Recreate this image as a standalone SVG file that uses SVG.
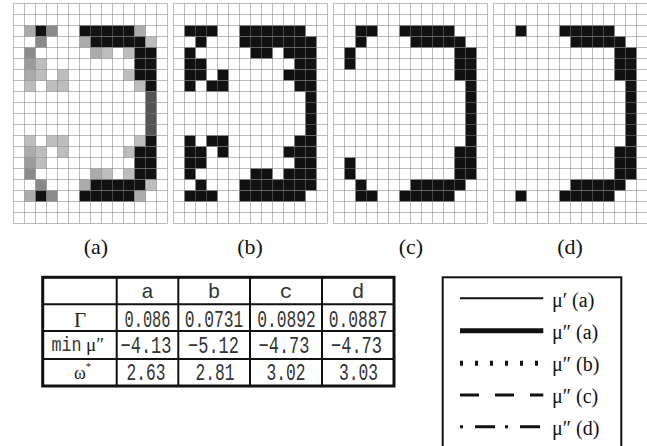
<svg xmlns="http://www.w3.org/2000/svg" xmlns:xlink="http://www.w3.org/1999/xlink" width="647" height="446" viewBox="0 0 647 446">
<style>
.k{fill:#111}.d{fill:#555}.g1{fill:#8a8a8a}.g2{fill:#9c9c9c}.g3{fill:#ababab}.g4{fill:#bdbdbd}
.gl{fill:none;stroke:#7a7a7a;stroke-opacity:0.5;stroke-width:1}
.lab{font-family:"Liberation Serif","Times New Roman",serif;font-size:22px;fill:#111;text-anchor:middle}
.mono{font-family:"Liberation Mono","Courier New",monospace;font-size:24px;fill:#333;text-anchor:middle}
.hdr{font-family:"Liberation Mono","Courier New",monospace;font-size:21px;fill:#333;text-anchor:middle}
.ser{font-family:"Liberation Serif","Times New Roman",serif;fill:#222}
.tb{fill:none;stroke:#111}
.lg{font-family:"Liberation Serif","Times New Roman",serif;font-size:20px;fill:#111}
.ll{stroke:#111;fill:none}
</style>
<defs>
<path id="grid" class="gl" d="M0 0V220M11 0V220M22 0V220M33 0V220M44 0V220M55 0V220M66 0V220M77 0V220M88 0V220M99 0V220M110 0V220M121 0V220M132 0V220M143 0V220M154 0V220M0 0H154M0 11H154M0 22H154M0 33H154M0 44H154M0 55H154M0 66H154M0 77H154M0 88H154M0 99H154M0 110H154M0 121H154M0 132H154M0 143H154M0 154H154M0 165H154M0 176H154M0 187H154M0 198H154M0 209H154M0 220H154"/>
</defs>
<rect width="647" height="446" fill="#fff"/>

<g id="panel-a" transform="translate(13.5,3.5)">
<rect class="g3" x="11" y="22" width="11" height="11"/><rect class="k" x="22" y="22" width="11" height="11"/><rect class="g1" x="33" y="22" width="11" height="11"/><rect class="k" x="66" y="22" width="55" height="11"/><rect class="g3" x="121" y="22" width="11" height="11"/>
<rect class="g1" x="22" y="33" width="11" height="11"/><rect class="g3" x="66" y="33" width="11" height="11"/><rect class="k" x="77" y="33" width="55" height="11"/><rect class="g4" x="132" y="33" width="11" height="11"/>
<rect class="g1" x="11" y="44" width="11" height="11"/><rect class="g3" x="77" y="44" width="11" height="11"/><rect class="g4" x="88" y="44" width="11" height="11"/><rect class="g4" x="110" y="44" width="11" height="11"/><rect class="k" x="121" y="44" width="22" height="11"/>
<rect class="g2" x="11" y="55" width="11" height="11"/><rect class="g4" x="22" y="55" width="11" height="11"/><rect class="k" x="121" y="55" width="22" height="11"/>
<rect class="g3" x="11" y="66" width="11" height="11"/><rect class="g4" x="22" y="66" width="11" height="11"/><rect class="g4" x="44" y="66" width="11" height="11"/><rect class="g4" x="110" y="66" width="11" height="11"/><rect class="k" x="121" y="66" width="22" height="11"/>
<rect class="g4" x="11" y="77" width="11" height="11"/><rect class="g4" x="33" y="77" width="22" height="11"/><rect class="g4" x="121" y="77" width="11" height="11"/><rect class="k" x="132" y="77" width="11" height="11"/>
<rect class="d" x="132" y="88" width="11" height="44"/>
<rect class="g4" x="11" y="132" width="11" height="11"/><rect class="g4" x="33" y="132" width="22" height="11"/><rect class="g4" x="121" y="132" width="11" height="11"/><rect class="k" x="132" y="132" width="11" height="11"/>
<rect class="g3" x="11" y="143" width="11" height="11"/><rect class="g4" x="22" y="143" width="11" height="11"/><rect class="g4" x="44" y="143" width="11" height="11"/><rect class="g4" x="110" y="143" width="11" height="11"/><rect class="k" x="121" y="143" width="22" height="11"/>
<rect class="g2" x="11" y="154" width="11" height="11"/><rect class="g4" x="22" y="154" width="11" height="11"/><rect class="k" x="121" y="154" width="22" height="11"/>
<rect class="g1" x="11" y="165" width="11" height="11"/><rect class="g3" x="77" y="165" width="11" height="11"/><rect class="g4" x="88" y="165" width="11" height="11"/><rect class="g4" x="110" y="165" width="11" height="11"/><rect class="k" x="121" y="165" width="22" height="11"/>
<rect class="g1" x="22" y="176" width="11" height="11"/><rect class="g3" x="66" y="176" width="11" height="11"/><rect class="k" x="77" y="176" width="55" height="11"/><rect class="g4" x="132" y="176" width="11" height="11"/>
<rect class="g3" x="11" y="187" width="11" height="11"/><rect class="k" x="22" y="187" width="11" height="11"/><rect class="g1" x="33" y="187" width="11" height="11"/><rect class="k" x="66" y="187" width="55" height="11"/><rect class="g3" x="121" y="187" width="11" height="11"/>
<use xlink:href="#grid" href="#grid"/>
</g>

<g id="panel-b" transform="translate(173.5,3.5)">
<rect class="k" x="11" y="22" width="33" height="11"/><rect class="k" x="66" y="22" width="66" height="11"/>
<rect class="k" x="22" y="33" width="11" height="11"/><rect class="k" x="66" y="33" width="77" height="11"/>
<rect class="k" x="11" y="44" width="11" height="11"/><rect class="k" x="77" y="44" width="22" height="11"/><rect class="k" x="110" y="44" width="33" height="11"/>
<rect class="k" x="11" y="55" width="22" height="11"/><rect class="k" x="121" y="55" width="22" height="11"/>
<rect class="k" x="11" y="66" width="22" height="11"/><rect class="k" x="44" y="66" width="11" height="11"/><rect class="k" x="110" y="66" width="33" height="11"/>
<rect class="k" x="11" y="77" width="11" height="11"/><rect class="k" x="33" y="77" width="22" height="11"/><rect class="k" x="121" y="77" width="22" height="11"/>
<rect class="k" x="132" y="88" width="11" height="44"/>
<rect class="k" x="11" y="132" width="11" height="11"/><rect class="k" x="33" y="132" width="22" height="11"/><rect class="k" x="121" y="132" width="22" height="11"/>
<rect class="k" x="11" y="143" width="22" height="11"/><rect class="k" x="44" y="143" width="11" height="11"/><rect class="k" x="110" y="143" width="33" height="11"/>
<rect class="k" x="11" y="154" width="22" height="11"/><rect class="k" x="121" y="154" width="22" height="11"/>
<rect class="k" x="11" y="165" width="11" height="11"/><rect class="k" x="77" y="165" width="22" height="11"/><rect class="k" x="110" y="165" width="33" height="11"/>
<rect class="k" x="22" y="176" width="11" height="11"/><rect class="k" x="66" y="176" width="77" height="11"/>
<rect class="k" x="11" y="187" width="33" height="11"/><rect class="k" x="66" y="187" width="66" height="11"/>
<use xlink:href="#grid" href="#grid"/>
</g>

<g id="panel-c" transform="translate(333.5,3.5)">
<rect class="k" x="22" y="22" width="22" height="11"/><rect class="k" x="66" y="22" width="55" height="11"/>
<rect class="k" x="22" y="33" width="11" height="11"/><rect class="k" x="77" y="33" width="55" height="11"/>
<rect class="k" x="11" y="44" width="11" height="22"/><rect class="k" x="121" y="44" width="22" height="33"/>
<rect class="k" x="132" y="77" width="11" height="66"/>
<rect class="k" x="121" y="143" width="22" height="33"/><rect class="k" x="11" y="154" width="11" height="22"/>
<rect class="k" x="22" y="176" width="11" height="11"/><rect class="k" x="77" y="176" width="55" height="11"/>
<rect class="k" x="22" y="187" width="22" height="11"/><rect class="k" x="66" y="187" width="55" height="11"/>
<use xlink:href="#grid" href="#grid"/>
</g>

<g id="panel-d" transform="translate(493.5,3.5)">
<rect class="k" x="22" y="22" width="11" height="11"/><rect class="k" x="66" y="22" width="55" height="11"/>
<rect class="k" x="77" y="33" width="55" height="11"/>
<rect class="k" x="121" y="44" width="22" height="33"/>
<rect class="k" x="132" y="77" width="11" height="66"/>
<rect class="k" x="121" y="143" width="22" height="33"/>
<rect class="k" x="77" y="176" width="55" height="11"/>
<rect class="k" x="22" y="187" width="11" height="11"/><rect class="k" x="66" y="187" width="55" height="11"/>
<use xlink:href="#grid" href="#grid"/>
</g>

<g id="labels">
<text class="lab" x="96" y="254">(a)</text>
<text class="lab" x="250" y="254">(b)</text>
<text class="lab" x="411" y="254">(c)</text>
<text class="lab" x="570" y="254">(d)</text>
</g>

<g id="table">
<rect class="tb" x="42.7" y="277.3" width="351.3" height="108.7" stroke-width="3"/>
<path class="tb" stroke-width="2" d="M116.7 277.3V386M178.3 277.3V386M250 277.3V386M322 277.3V386M42.7 304.3H394M42.7 331H394M42.7 359H394"/>
<text class="hdr" x="147.5" y="298">a</text>
<text class="hdr" x="214" y="298">b</text>
<text class="hdr" x="286" y="298">c</text>
<text class="hdr" x="358" y="298">d</text>
<text class="ser" x="80" y="327" font-size="21" text-anchor="middle">Γ</text>
<text class="mono" transform="translate(147.5,327) scale(0.64,1)">0.086</text>
<text class="mono" transform="translate(214,327) scale(0.68,1)">0.0731</text>
<text class="mono" transform="translate(286.5,327) scale(0.68,1)">0.0892</text>
<text class="mono" transform="translate(358,327) scale(0.68,1)">0.0887</text>
<text x="51.5" y="351" style="font-family:'Liberation Mono','Courier New',monospace;font-size:20px;fill:#333" textLength="30" lengthAdjust="spacingAndGlyphs">min</text>
<text class="ser" x="86" y="351" font-size="19">μ″</text>
<text class="mono" x="146" y="353" textLength="51" lengthAdjust="spacingAndGlyphs">−4.13</text>
<text class="mono" x="213.5" y="353" textLength="51" lengthAdjust="spacingAndGlyphs">−5.12</text>
<text class="mono" x="284" y="353" textLength="51" lengthAdjust="spacingAndGlyphs">−4.73</text>
<text class="mono" x="356.5" y="353" textLength="51" lengthAdjust="spacingAndGlyphs">−4.73</text>
<text class="ser" x="74" y="379" font-size="18">ω<tspan font-size="11" dy="-9">*</tspan></text>
<text class="mono" x="146" y="379.5" textLength="39" lengthAdjust="spacingAndGlyphs">2.63</text>
<text class="mono" x="215" y="379.5" textLength="39" lengthAdjust="spacingAndGlyphs">2.81</text>
<text class="mono" x="286" y="379.5" textLength="39" lengthAdjust="spacingAndGlyphs">3.02</text>
<text class="mono" x="358.5" y="379.5" textLength="39" lengthAdjust="spacingAndGlyphs">3.03</text>
</g>

<g id="legend">
<rect class="tb" x="442.7" y="277.3" width="178.6" height="190" stroke-width="2"/>
<line class="ll" x1="460" y1="298.3" x2="543.3" y2="298.3" stroke-width="2"/>
<line class="ll" x1="460" y1="330.7" x2="543.3" y2="330.7" stroke-width="5"/>
<line class="ll" x1="460" y1="363.3" x2="543.3" y2="363.3" stroke-width="5" stroke-dasharray="3 12"/>
<line class="ll" x1="460" y1="395" x2="543.3" y2="395" stroke-width="3.2" stroke-dasharray="19 16"/>
<line class="ll" x1="460" y1="426.7" x2="543.3" y2="426.7" stroke-width="3" stroke-dasharray="3 12 20 10"/>
<text class="lg" x="552" y="306.5">μ′ (a)</text>
<text class="lg" x="552" y="338.7">μ″ (a)</text>
<text class="lg" x="552" y="371">μ″ (b)</text>
<text class="lg" x="552" y="403">μ″ (c)</text>
<text class="lg" x="552" y="435">μ″ (d)</text>
</g>
</svg>
